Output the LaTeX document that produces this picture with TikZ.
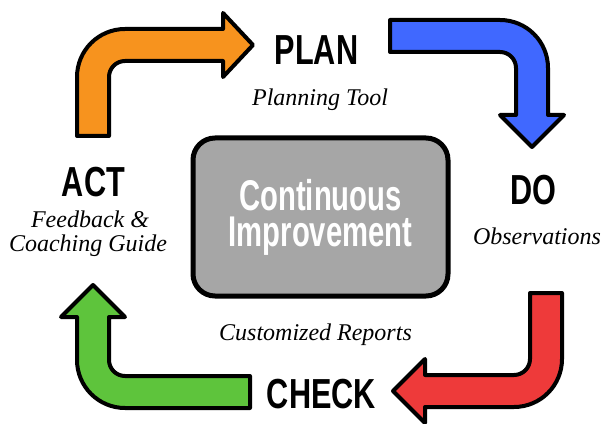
\documentclass[tikz,border=0pt]{standalone}
\usepackage{fontspec}
\setmainfont{Liberation Serif}
\newfontfamily\labelfont[FakeStretch=0.73]{Liberation Sans Bold}
\newfontfamily\cifont[FakeStretch=0.68]{Liberation Sans Bold}
\definecolor{arrOrange}{HTML}{F7931E}
\definecolor{arrBlue}{HTML}{4068FF}
\definecolor{arrRed}{HTML}{EE3A3A}
\definecolor{arrGreen}{HTML}{5EC43C}
\definecolor{boxGray}{HTML}{A6A6A6}
\tikzset{
  bentarrow/.style={draw=black, line width=4pt, line join=round},
  phase/.style={inner sep=0pt, font=\labelfont\fontsize{42}{42}\selectfont},
  sub/.style={inner sep=0pt, anchor=base, font=\itshape\fontsize{24}{24}\selectfont},
  citext/.style={inner sep=0pt, align=center, text=white, font=\cifont\fontsize{43}{36}\selectfont},
  cibox/.style={draw=black, line width=5pt, fill=boxGray, rounded corners=22pt,
    minimum width=255pt, minimum height=158pt, inner sep=0pt}
}
\begin{document}
\begin{tikzpicture}[x=1pt,y=1pt]
\useasboundingbox (0,0) rectangle (604,423);
% orange (ACT -> PLAN)
\fill[arrOrange, bentarrow] (77,287) -- (77,346) arc[start angle=180,end angle=90,radius=48]
  -- (223,394) -- (223,410) -- (253,378) -- (223,346) -- (223,362) -- (125,362)
  arc[start angle=90,end angle=180,radius=16] -- (109,287) -- cycle;
% blue (PLAN -> DO)
\fill[arrBlue, bentarrow] (390,403) -- (500,403) arc[start angle=90,end angle=0,radius=48]
  -- (548,308) -- (564,308) -- (532,276) -- (500,308) -- (516,308) -- (516,355)
  arc[start angle=0,end angle=90,radius=16] -- (390,371) -- cycle;
% red (DO -> CHECK)
\fill[arrRed, bentarrow] (562,130) -- (562,64) arc[start angle=0,end angle=-90,radius=48]
  -- (425,16) -- (425,0) -- (393,32) -- (425,64) -- (425,48) -- (514,48)
  arc[start angle=-90,end angle=0,radius=16] -- (530,130) -- cycle;
% green (CHECK -> ACT)
\fill[arrGreen, bentarrow] (250,47) -- (125,47) arc[start angle=-90,end angle=-180,radius=16]
  -- (109,106) -- (125,106) -- (93,138) -- (61,106) -- (77,106) -- (77,63)
  arc[start angle=180,end angle=270,radius=48] -- (250,15) -- cycle;
% central box
\node[cibox] (box) at (320.5,206) {};
\node[citext] (ci) at (320.5,205.5) {Continuous\\Improvement};
% labels
\node[phase] (plan) at (316.5,373) {PLAN};
\node[sub] (plansub) at (320,317) {Planning Tool};
\node[phase] (do) at (533.5,233) {DO};
\node[sub] (dosub) at (537,178) {Observations};
\node[phase] (check) at (321.5,29) {CHECK};
\node[sub] (checksub) at (315.5,83) {Customized Reports};
\node[phase] (act) at (93.5,241) {ACT};
\node[sub] (actsub1) at (90,195) {Feedback \&};
\node[sub] (actsub2) at (88,171) {Coaching Guide};
\end{tikzpicture}
\end{document}
